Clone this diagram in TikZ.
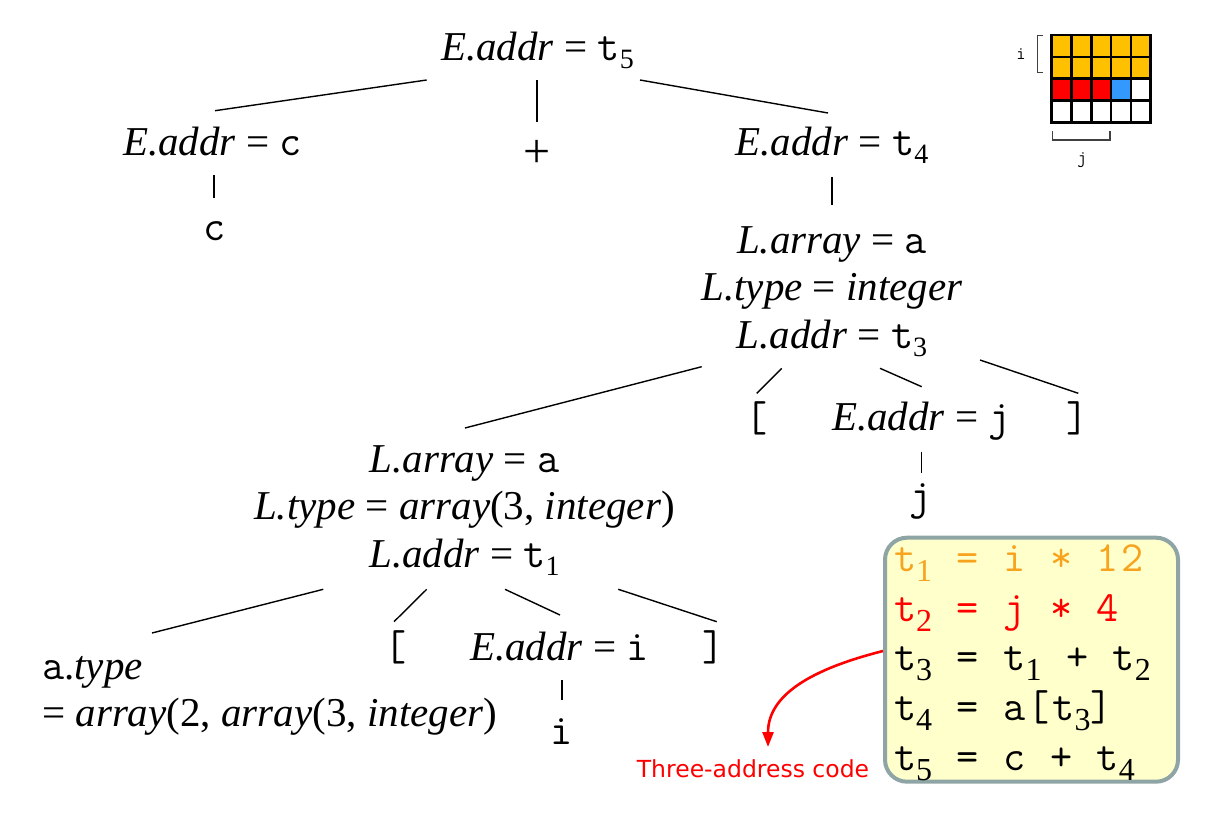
\documentclass[tikz,border=0pt]{standalone}
\usepackage{fontspec}
\setmainfont{Liberation Serif}
\setmonofont{Latin Modern Mono}[LetterSpace=5.6]
\newfontfamily\labelfont{DejaVu Sans}
\usetikzlibrary{calc,arrows.meta}
\definecolor{cellorange}{HTML}{FFC000}
\definecolor{cellblue}{HTML}{3399FF}
\definecolor{codeorange}{HTML}{F7A31E}
\definecolor{boxborder}{HTML}{8FA5A5}
\definecolor{boxfill}{HTML}{FFFFCC}
\newcommand{\sbs}[1]{\raisebox{-8pt}{\fontsize{28}{28}\selectfont\rmfamily\upshape #1}}
\newcommand{\csb}[1]{\raisebox{-10pt}{\fontsize{32}{32}\selectfont\rmfamily #1}}
\newcommand{\tw}[1]{{\fontsize{43}{47.7}\selectfont\ttfamily #1}}
\newcommand{\stackc}[2]{\vtop{\baselineskip=#1\lineskiplimit=-100pt\lineskip=0pt\halign{\hfil##\hfil\cr#2\crcr}}}
\newcommand{\stackl}[2]{\vtop{\baselineskip=#1\lineskiplimit=-100pt\lineskip=0pt\halign{##\hfil\cr#2\crcr}}}
\begin{document}
\begin{tikzpicture}[x=1pt,y=-1pt,
  tr/.style={inner sep=0pt, anchor=base, font=\fontsize{41}{47.7}\selectfont},
  mono/.style={font=\fontsize{43}{47.7}\selectfont\ttfamily},
  ln/.style={line width=1.4pt},
  gl/.style={line width=2.7pt, line cap=rect},
  br/.style={line width=1.3pt, draw=black!75},
]
\useasboundingbox (0,0) rectangle (1218,816);

% ---- tree nodes ----
\node[tr] (root) at (537.5,60) {\textit{E.addr} = \tw{t}\sbs{5}};
\node[tr] (ec) at (212.5,155) {\textit{E.addr} = \tw{c}};
\node[inner sep=0pt, font=\fontsize{48}{48}\selectfont] (plus) at (537.5,154) {+};
\node[tr] (et4) at (832,155) {\textit{E.addr} = \tw{t}\sbs{4}};
\node[tr, mono] (cleaf) at (215,240) {c};
\node[tr] (l1) at (832,253.3) {\stackc{47.6pt}{\textit{L.array} = \tw{a}\cr\textit{L.type} = \textit{integer}\cr\textit{L.addr} = \tw{t}\sbs{3}}};
\node[tr, mono] (lb1) at (757,431) {[};
\node[tr] (ej) at (921.5,430) {\textit{E.addr} = \tw{j}};
\node[tr, mono] (rb1) at (1078,431) {]};
\node[tr, mono] (jleaf) at (921,509) {j};
\node[tr] (l2) at (464.5,472) {\stackc{47.8pt}{\textit{L.array} = \tw{a}\cr\textit{L.type} = \textit{array}(3, \textit{integer})\cr\textit{L.addr} = \tw{t}\sbs{1}}};
\node[tr, anchor=base west] (atype) at (42,679) {\stackl{47.3pt}{\tw{a}.\textit{type}\cr= \textit{array}(2, \textit{array}(3, \textit{integer})}};
\node[tr, mono] (lb2) at (396,660) {[};
\node[tr] (ei) at (559.5,660) {\textit{E.addr} = \tw{i}};
\node[tr, mono] (rb2) at (714,660) {]};
\node[tr, mono] (ileaf) at (562,744) {i};

% ---- tree edges ----
\draw[ln] ($(root.base)+(-110.8,20)$) -- ($(ec.base)+(2.5,-44.3)$);
\draw[ln] ($(root.base)+(-0.5,20)$) -- ($(plus.center)+(-0.5,-32.3)$);
\draw[ln] ($(root.base)+(102.5,20)$) -- ($(et4.base)+(-4,-42)$);
\draw[ln] ($(ec.base)+(1.5,20)$) -- ($(cleaf.base)+(-1,-42)$);
\draw[ln] ($(et4.base)+(0,22)$) -- ($(l1.base)+(0,-48.3)$);
\draw[ln] ($(l1.base)+(-130.3,113.4)$) -- ($(l2.base)+(0.5,-44)$);
\draw[ln] ($(l1.base)+(-50.3,115)$) -- ($(lb1.base)+(-0.3,-37.7)$);
\draw[ln] ($(l1.base)+(48,115)$) -- ($(ej.base)+(0.2,-43.3)$);
\draw[ln] ($(l1.base)+(148,106.7)$) -- ($(rb1.base)+(0.3,-37.7)$);
\draw[ln] ($(ej.base)+(0.2,21.7)$) -- ($(jleaf.base)+(0.7,-35.7)$);
\draw[ln] ($(l2.base)+(-141.2,117.3)$) -- ($(atype.base west)+(110,-46)$);
\draw[ln] ($(l2.base)+(-37.8,117.3)$) -- ($(lb2.base)+(-2,-38.3)$);
\draw[ln] ($(l2.base)+(40.5,117.3)$) -- ($(ei.base)+(0.5,-45)$);
\draw[ln] ($(l2.base)+(153.8,117.3)$) -- ($(rb2.base)+(2.7,-38.3)$);
\draw[ln] ($(ei.base)+(2.5,20)$) -- ($(ileaf.base)+(0,-44)$);

% ---- three-address code box ----
\node[draw=boxborder, line width=4pt, fill=boxfill, rounded corners=22pt,
      inner xsep=9pt, inner ysep=5pt,
      text height=29pt, text depth=205pt, anchor=base,
      font=\fontsize{43}{49.6}\selectfont\ttfamily] (code) at (1031.5,571.7)
  {\stackl{49.6pt}{\makebox[275pt][l]{\textcolor{codeorange}{t\csb{1} = i * 12}}\cr\textcolor{red}{t\csb{2} = j * 4}\cr t\csb{3} = t\csb{1} + t\csb{2}\cr t\csb{4} = a[t\csb{3}]\cr t\csb{5} = c + t\csb{4}}};

\node[anchor=base, inner sep=0pt, text=red, font=\labelfont\fontsize{23.5}{28}\selectfont] (lab) at (753,777) {Three-address code};
\draw[red, line width=2.6pt, -{Triangle[length=15pt,width=11pt]}]
  ([yshift=8.7pt]code.west) .. controls (800,672) and (768,700) .. ($(lab.base)+(15,-30)$);

% ---- array layout grid ----
\fill[cellorange] (1051.7,35) rectangle (1150.7,79.3);
\fill[red] (1051.7,79.3) rectangle (1111.1,101.5);
\fill[cellblue] (1111.1,79.3) rectangle (1130.9,101.5);
\foreach \k in {0,...,5} \draw[gl] ({1051.7+19.8*\k},35) -- ({1051.7+19.8*\k},122.7);
\foreach \k in {0,...,4} \draw[gl] (1051.7,{35+21.925*\k}) -- (1150.7,{35+21.925*\k});
\draw[br] (1043.3,35.7) -- (1037.3,35.7) -- (1037.3,72.3) -- (1043.3,72.3);
\node[font=\fontsize{18}{18}\selectfont\ttfamily, inner sep=0pt] (ilab) at (1021,54) {i};
\draw[br] (1052.7,131) -- (1052.7,140) -- (1110,140) -- (1110,131);
\node[font=\fontsize{18}{18}\selectfont\ttfamily, inner sep=0pt] (jlab) at (1082,160.5) {j};
\end{tikzpicture}
\end{document}
